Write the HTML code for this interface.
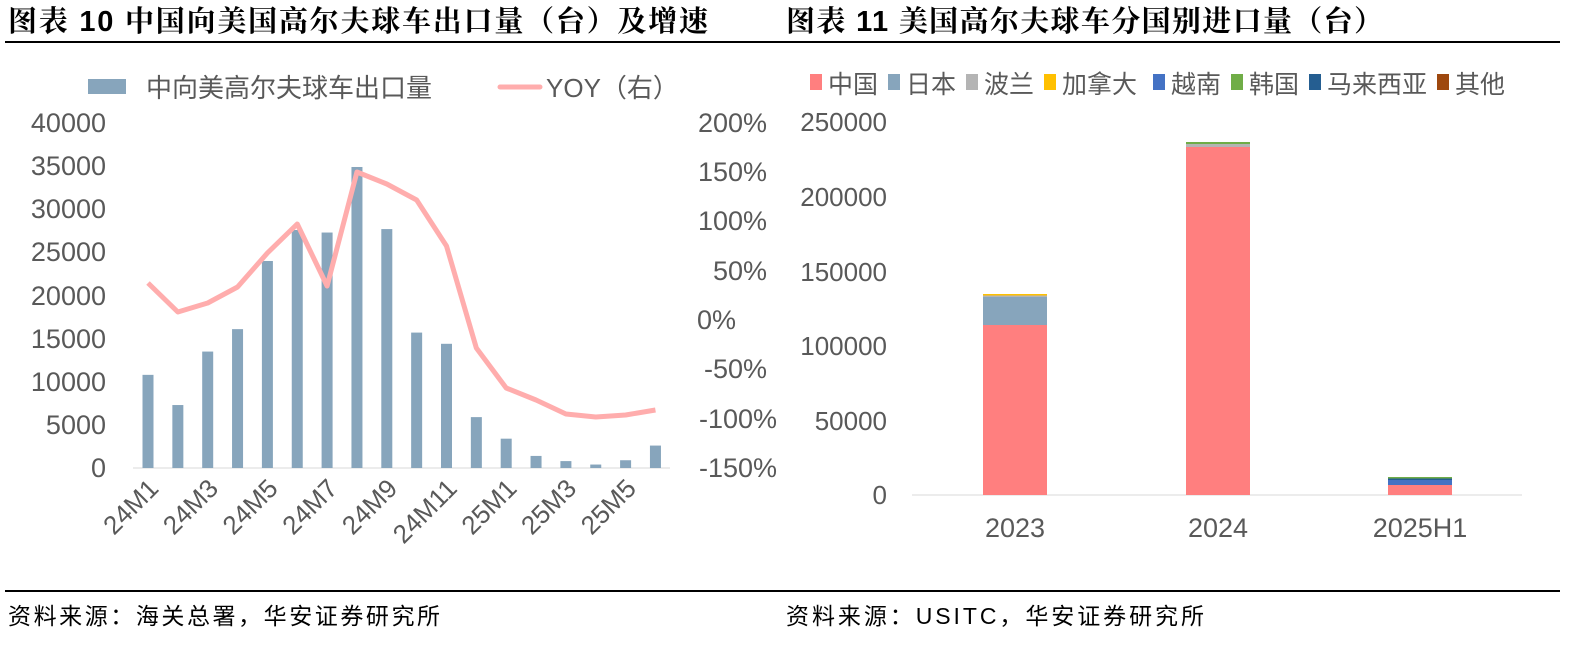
<!DOCTYPE html><html><head><meta charset="utf-8"><style>
body{margin:0;background:#fff;width:1570px;height:644px;overflow:hidden;font-family:"Liberation Sans","Noto Sans CJK SC",sans-serif}
</style></head><body>
<svg width="1570" height="644" xmlns="http://www.w3.org/2000/svg" font-family="Liberation Sans, Noto Sans CJK SC, sans-serif">
<text x="8" y="31" font-size="29" font-weight="bold" fill="#000" textLength="700" font-family="Liberation Sans, Noto Serif CJK SC, serif">图表 10 中国向美国高尔夫球车出口量（台）及增速</text>
<text x="786" y="31" font-size="29" font-weight="bold" fill="#000" textLength="597" font-family="Liberation Sans, Noto Serif CJK SC, serif">图表 11 美国高尔夫球车分国别进口量（台）</text>
<line x1="5" y1="42" x2="1560" y2="42" stroke="#000" stroke-width="2"/>
<line x1="5" y1="591" x2="1560" y2="591" stroke="#000" stroke-width="2"/>
<text x="8" y="624" font-size="23" fill="#000" textLength="432">资料来源：海关总署，华安证券研究所</text>
<text x="786" y="624" font-size="23" fill="#000" textLength="418">资料来源：USITC，华安证券研究所</text>
<rect x="88" y="79" width="38" height="15" fill="#87a5bc"/>
<text x="146" y="97" font-size="26" fill="#595959">中向美高尔夫球车出口量</text>
<line x1="500" y1="87" x2="540" y2="87" stroke="#ffadad" stroke-width="5" stroke-linecap="round"/>
<text x="546" y="97" font-size="26" fill="#595959">YOY（右）</text>
<g font-size="27" fill="#595959" text-anchor="end">
<text x="106" y="132">40000</text><text x="106" y="175">35000</text><text x="106" y="218">30000</text><text x="106" y="261">25000</text><text x="106" y="305">20000</text><text x="106" y="348">15000</text><text x="106" y="391">10000</text><text x="106" y="434">5000</text><text x="106" y="477">0</text>
</g>
<g font-size="27" fill="#595959" text-anchor="end">
<text x="767" y="132">200%</text><text x="767" y="181">150%</text><text x="767" y="230">100%</text><text x="767" y="280">50%</text><text x="736" y="329">0%</text><text x="767" y="378">-50%</text><text x="777" y="428">-100%</text><text x="777" y="477">-150%</text>
</g>
<line x1="133" y1="468" x2="670" y2="468" stroke="#d9d9d9"/>
<g fill="#87a5bc" id="bars"></g>
<polyline id="yoy" fill="none" stroke="#ffadad" stroke-width="5" stroke-linejoin="round"/>
<g id="xl" font-size="26" fill="#595959"></g>
<g font-size="25">
<rect x="810" y="74" width="12" height="16" fill="#ff7f7f"/><text x="828" y="93" fill="#595959">中国</text>
<rect x="888" y="74" width="12" height="16" fill="#87a5bc"/><text x="906" y="93" fill="#595959">日本</text>
<rect x="966" y="74" width="12" height="16" fill="#b4b4b4"/><text x="984" y="93" fill="#595959">波兰</text>
<rect x="1044" y="74" width="12" height="16" fill="#ffc000"/><text x="1062" y="93" fill="#595959">加拿大</text>
<rect x="1153" y="74" width="12" height="16" fill="#4472c4"/><text x="1171" y="93" fill="#595959">越南</text>
<rect x="1231" y="74" width="12" height="16" fill="#70ad47"/><text x="1249" y="93" fill="#595959">韩国</text>
<rect x="1309" y="74" width="12" height="16" fill="#255e91"/><text x="1327" y="93" fill="#595959">马来西亚</text>
<rect x="1437" y="74" width="12" height="16" fill="#9e480e"/><text x="1455" y="93" fill="#595959">其他</text>
</g>
<g font-size="26" fill="#595959" text-anchor="end">
<text x="887" y="131">250000</text><text x="887" y="206">200000</text><text x="887" y="281">150000</text><text x="887" y="355">100000</text><text x="887" y="430">50000</text><text x="887" y="504">0</text>
</g>
<line x1="912" y1="495" x2="1522" y2="495" stroke="#d9d9d9"/>
<rect x="983" y="325" width="64" height="170" fill="#ff7f7f"/>
<rect x="983" y="297" width="64" height="28" fill="#87a5bc"/>
<rect x="983" y="295" width="64" height="2" fill="#b4b4b4"/>
<rect x="983" y="294" width="64" height="1.5" fill="#ffc000"/>
<rect x="1186" y="147" width="64" height="348" fill="#ff7f7f"/>
<rect x="1186" y="144" width="64" height="3" fill="#b4b4b4"/>
<rect x="1186" y="142" width="64" height="2" fill="#70ad47"/>
<rect x="1388" y="485" width="64" height="10" fill="#ff7f7f"/>
<rect x="1388" y="480" width="64" height="5" fill="#4472c4"/>
<rect x="1388" y="478" width="64" height="2" fill="#255e91"/>
<rect x="1388" y="477" width="64" height="1.5" fill="#70ad47"/>
<g font-size="27" fill="#595959" text-anchor="middle">
<text x="1015" y="537">2023</text><text x="1218" y="537">2024</text><text x="1420" y="537">2025H1</text>
</g>
</svg>
<script>
const v=[10800,7300,13500,16100,24000,27600,27300,34900,27700,15700,14400,5900,3400,1400,800,400,900,2600];
const yy=[283,312,303,287,253,224,286,172,184,200,246,348,388,400,414,417,415,410];
const ns="http://www.w3.org/2000/svg";let b=document.getElementById('bars'),pts=[],xl=document.getElementById('xl');
const labs=["24M1","24M3","24M5","24M7","24M9","24M11","25M1","25M3","25M5"];
v.forEach((d,i)=>{const cx=148+i*29.85,h=d*345/40000;const r=document.createElementNS(ns,'rect');
r.setAttribute('x',cx-5.5);r.setAttribute('y',468-h);r.setAttribute('width',11);r.setAttribute('height',h);b.appendChild(r);
pts.push(cx+','+yy[i]);
if(i%2==0){const t=document.createElementNS(ns,'text');t.setAttribute('text-anchor','end');t.setAttribute('transform',`translate(${cx+12},490) rotate(-45)`);t.textContent=labs[i/2];xl.appendChild(t);}});
document.getElementById('yoy').setAttribute('points',pts.join(' '));
</script>
</body></html>
